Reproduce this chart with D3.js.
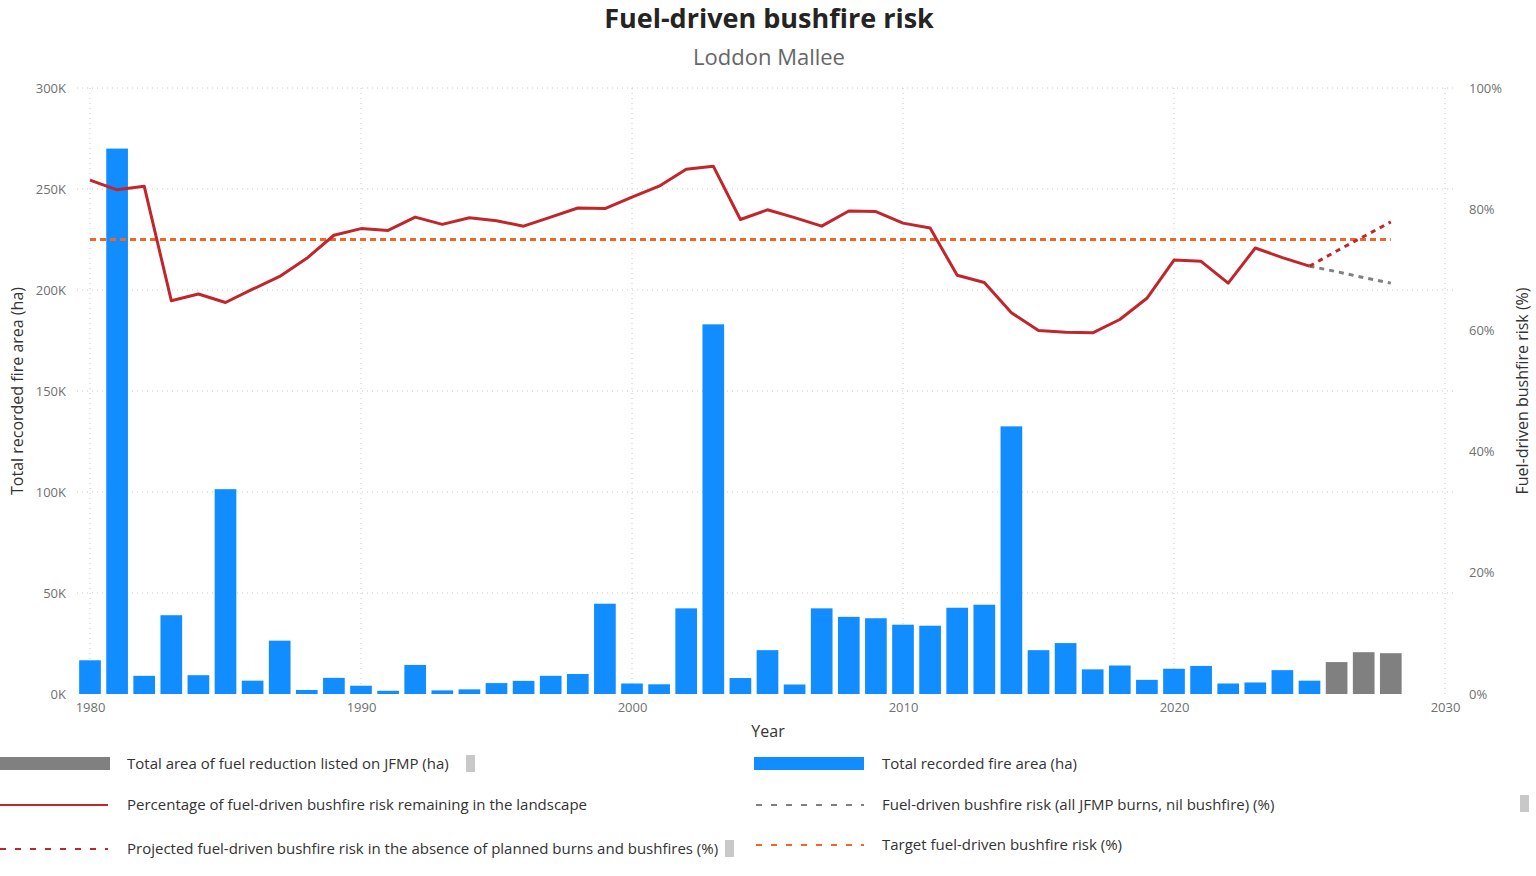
<!DOCTYPE html>
<html>
<head>
<meta charset="utf-8">
<script src="https://cdn.jsdelivr.net/npm/d3@7"></script>
<style>
    body { margin: 0; background: #fff; }
    svg { display: block; font-family: "Segoe UI", "Open Sans", sans-serif; }
</style>
</head>
<body>
<svg></svg>
<script>
//Recorded years (blue bars and solid red line)
const years = [
    1980, 1981, 1982, 1983, 1984, 1985, 1986, 1987, 1988, 1989,
    1990, 1991, 1992, 1993, 1994, 1995, 1996, 1997, 1998, 1999,
    2000, 2001, 2002, 2003, 2004, 2005, 2006, 2007, 2008, 2009,
    2010, 2011, 2012, 2013, 2014, 2015, 2016, 2017, 2018, 2019,
    2020, 2021, 2022, 2023, 2024, 2025
];
//Total recorded fire area (ha)
const fireArea = [
    16700, 270000, 9000, 39000, 9300, 101400, 6600, 26400, 2000, 8000,
    4100, 1600, 14400, 1800, 2300, 5400, 6500, 9000, 9900, 44700,
    5200, 4800, 42400, 183000, 7900, 21700, 4700, 42400, 38200, 37500,
    34300, 33800, 42700, 44200, 132500, 21700, 25200, 12200, 14100, 7000,
    12500, 13900, 5200, 5700, 11800, 6600
];
//Percentage of fuel-driven bushfire risk remaining (%)
const riskRemaining = [
    84.8, 83.2, 83.8, 64.9, 66.0, 64.6, 66.8, 68.9, 71.9, 75.7,
    76.8, 76.5, 78.7, 77.5, 78.6, 78.1, 77.2, 78.7, 80.2, 80.1,
    82.0, 83.8, 86.6, 87.1, 78.3, 79.9, 78.6, 77.2, 79.7, 79.6,
    77.7, 76.9, 69.1, 67.9, 62.9, 60.0, 59.7, 59.6, 61.8, 65.3,
    71.6, 71.4, 67.8, 73.6, 72.0, 70.6
];

//Planned years (grey bars)
const planYears = [2026, 2027, 2028];
const fuelReduction = [15800, 20700, 20200];

//Projection years (dashed lines)
const projYears = [2025, 2026, 2027, 2028];
const projectedRisk = [70.6, 73.1, 75.5, 77.9];
const jfmpRisk = [70.6, 69.7, 68.7, 67.8];

//Target risk (%)
const targetRisk = 75;
const targetYears = [1980, 2028];

//Tick labels
const xTicks = [1980, 1990, 2000, 2010, 2020, 2030];
const leftTicks = [0, 50000, 100000, 150000, 200000, 250000, 300000];
const rightTicks = [0, 20, 40, 60, 80, 100];

const width = 1536;
const height = 876;
const plotTop = 88;
const plotBottom = 694;

const blue = "#118dff";
const grey = "#808080";
const red = "#c0262b";
const orange = "#f0652a";

const svg = d3.select("svg");

let xScale;
let yLeft;
let yRight;

const drawCanvas = () => {
    svg.attr("width", width).attr("height", height);
};

const generateScales = () => {
    xScale = d3.scaleLinear()
        .domain([1980, 2030])
        .range([90, 1445]);

    yLeft = d3.scaleLinear()
        .domain([0, 300000])
        .range([plotBottom, plotTop]);

    yRight = d3.scaleLinear()
        .domain([0, 100])
        .range([plotBottom, plotTop]);
};

//Dotted grid lines
const drawGrid = () => {
    const grid = svg.append("g").attr("class", "grid");

    grid.selectAll(".hgrid")
        .data(leftTicks.slice(1))
        .enter()
        .append("line")
        .attr("x1", 77)
        .attr("x2", 1453)
        .attr("y1", (d) => yLeft(d))
        .attr("y2", (d) => yLeft(d))
        .attr("stroke", "#c8c8c8")
        .attr("stroke-width", 1)
        .attr("stroke-dasharray", "1,4");

    grid.selectAll(".vgrid")
        .data(xTicks)
        .enter()
        .append("line")
        .attr("x1", (d) => xScale(d))
        .attr("x2", (d) => xScale(d))
        .attr("y1", plotTop)
        .attr("y2", plotBottom)
        .attr("stroke", "#c8c8c8")
        .attr("stroke-width", 1)
        .attr("stroke-dasharray", "1,4");
};

const generateAxes = () => {
    const xAxis = d3.axisBottom(xScale)
        .tickValues(xTicks)
        .tickFormat(d3.format("d"))
        .tickSize(0)
        .tickPadding(9);

    const leftAxis = d3.axisLeft(yLeft)
        .tickValues(leftTicks)
        .tickFormat((d) => d / 1000 + "K")
        .tickSize(0)
        .tickPadding(24);

    const rightAxis = d3.axisRight(yRight)
        .tickValues(rightTicks)
        .tickFormat((d) => d + "%")
        .tickSize(0)
        .tickPadding(24);

    const axes = [
        svg.append("g").attr("transform", "translate(0, " + plotBottom + ")").call(xAxis),
        svg.append("g").attr("transform", "translate(90, 0)").call(leftAxis),
        svg.append("g").attr("transform", "translate(1445, 0)").call(rightAxis)
    ];

    axes.forEach((g) => {
        g.select(".domain").remove();
        g.selectAll("text")
            .attr("fill", "#707070")
            .style("font-size", "13px")
            .style("font-family", "\"Segoe UI\", \"Open Sans\", sans-serif");
    });

    //Axis titles
    svg.append("text")
        .attr("x", 768)
        .attr("y", 737)
        .attr("text-anchor", "middle")
        .attr("fill", "#333")
        .style("font-size", "16px")
        .text("Year");

    svg.append("text")
        .attr("transform", "translate(23, 391) rotate(-90)")
        .attr("text-anchor", "middle")
        .attr("fill", "#333")
        .style("font-size", "16px")
        .text("Total recorded fire area (ha)");

    svg.append("text")
        .attr("transform", "translate(1528, 391) rotate(-90)")
        .attr("text-anchor", "middle")
        .attr("fill", "#333")
        .style("font-size", "16px")
        .text("Fuel-driven bushfire risk (%)");
};

const drawBars = () => {
    const barWidth = (xScale(1981) - xScale(1980)) * 0.8;

    svg.selectAll(".fire")
        .data(years)
        .enter()
        .append("rect")
        .attr("class", "fire")
        .attr("x", (d) => xScale(d) - barWidth / 2)
        .attr("y", (d, i) => yLeft(fireArea[i]))
        .attr("width", barWidth)
        .attr("height", (d, i) => yLeft(0) - yLeft(fireArea[i]))
        .attr("fill", blue);

    svg.selectAll(".plan")
        .data(planYears)
        .enter()
        .append("rect")
        .attr("class", "plan")
        .attr("x", (d) => xScale(d) - barWidth / 2)
        .attr("y", (d, i) => yLeft(fuelReduction[i]))
        .attr("width", barWidth)
        .attr("height", (d, i) => yLeft(0) - yLeft(fuelReduction[i]))
        .attr("fill", grey);
};

const drawLines = () => {
    const line = d3.line()
        .x((d) => xScale(d[0]))
        .y((d) => yRight(d[1]));

    //Target line
    svg.append("path")
        .datum(targetYears.map((y) => [y, targetRisk]))
        .attr("d", line)
        .attr("fill", "none")
        .attr("stroke", orange)
        .attr("stroke-width", 3)
        .attr("stroke-dasharray", "6,4");

    //All JFMP burns projection
    svg.append("path")
        .datum(projYears.map((y, i) => [y, jfmpRisk[i]]))
        .attr("d", line)
        .attr("fill", "none")
        .attr("stroke", grey)
        .attr("stroke-width", 3)
        .attr("stroke-dasharray", "5,5");

    //Projection with no burns
    svg.append("path")
        .datum(projYears.map((y, i) => [y, projectedRisk[i]]))
        .attr("d", line)
        .attr("fill", "none")
        .attr("stroke", red)
        .attr("stroke-width", 3)
        .attr("stroke-dasharray", "5,5");

    //Remaining risk
    svg.append("path")
        .datum(years.map((y, i) => [y, riskRemaining[i]]))
        .attr("d", line)
        .attr("fill", "none")
        .attr("stroke", red)
        .attr("stroke-width", 3)
        .attr("stroke-linejoin", "round");
};

const drawTitles = () => {
    svg.append("text")
        .attr("x", 769)
        .attr("y", 28)
        .attr("text-anchor", "middle")
        .attr("fill", "#252423")
        .style("font-size", "27px")
        .style("font-weight", "bold")
        .text("Fuel-driven bushfire risk");

    svg.append("text")
        .attr("x", 769)
        .attr("y", 65)
        .attr("text-anchor", "middle")
        .attr("fill", "#666")
        .style("font-size", "22px")
        .text("Loddon Mallee");
};

//Legend items, two columns by three rows
const createLegend = () => {
    const items = [
        { x: 0, y: 764, type: "rect", color: grey, label: "Total area of fuel reduction listed on JFMP (ha)" },
        { x: 754, y: 764, type: "rect", color: blue, label: "Total recorded fire area (ha)" },
        { x: 0, y: 805, type: "line", color: red, dash: null, label: "Percentage of fuel-driven bushfire risk remaining in the landscape" },
        { x: 756, y: 805, type: "line", color: grey, dash: "6,9", label: "Fuel-driven bushfire risk (all JFMP burns, nil bushfire) (%)" },
        { x: 0, y: 849, type: "line", color: red, dash: "6,9", label: "Projected fuel-driven bushfire risk in the absence of planned burns and bushfires (%)" },
        { x: 756, y: 845, type: "line", color: orange, dash: "6,9", label: "Target fuel-driven bushfire risk (%)" }
    ];

    const legend = svg.append("g").attr("id", "legend");

    items.forEach((d) => {
        if (d.type === "rect") {
            legend.append("rect")
                .attr("x", d.x)
                .attr("y", d.y - 7)
                .attr("width", 110)
                .attr("height", 13)
                .attr("fill", d.color);
        } else {
            legend.append("line")
                .attr("x1", d.x)
                .attr("x2", d.x + 108)
                .attr("y1", d.y)
                .attr("y2", d.y)
                .attr("stroke", d.color)
                .attr("stroke-width", 2)
                .attr("stroke-dasharray", d.dash);
        }
        legend.append("text")
            .attr("x", d.x < 700 ? 127 : 882)
            .attr("y", d.y + 5)
            .attr("fill", "#333")
            .style("font-size", "15px")
            .text(d.label);
    });

    //Little scroll markers left by the report
    const markers = [[466, 755], [1520, 795], [725, 840]];
    legend.selectAll(".marker")
        .data(markers)
        .enter()
        .append("rect")
        .attr("x", (d) => d[0])
        .attr("y", (d) => d[1])
        .attr("width", 9)
        .attr("height", 17)
        .attr("fill", "#c8c8c8");
};

drawCanvas();
generateScales();
drawGrid();
generateAxes();
drawBars();
drawLines();
drawTitles();
createLegend();
</script>
</body>
</html>
